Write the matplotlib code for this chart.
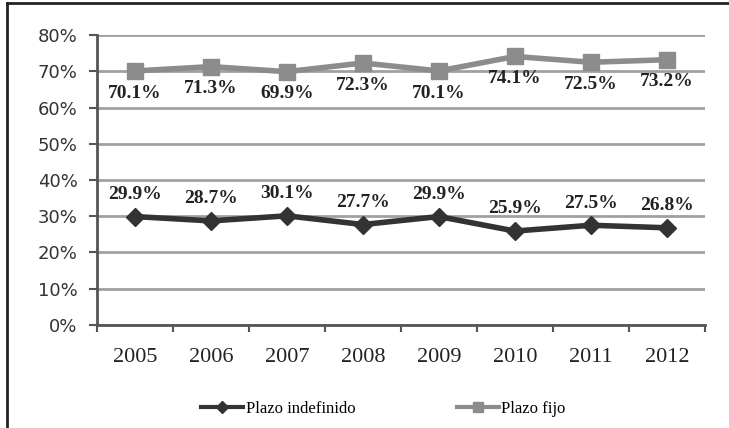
import numpy as np
import matplotlib
matplotlib.use('Agg')
import matplotlib.pyplot as plt
from matplotlib.lines import Line2D
from matplotlib.ticker import FixedLocator, PercentFormatter

years = ['2005', '2006', '2007', '2008', '2009', '2010', '2011', '2012']
indefinido = [29.9, 28.7, 30.1, 27.7, 29.9, 25.9, 27.5, 26.8]
fijo = [70.1, 71.3, 69.9, 72.3, 70.1, 74.1, 72.5, 73.2]
y_ticks = [0, 10, 20, 30, 40, 50, 60, 70, 80]

DARK = '#333333'
LIGHT = '#8c8c8c'
GRID = '#a0a0a0'

fig = plt.figure(figsize=(7.29, 4.28), dpi=100)
ax = fig.add_axes([0.133, 0.241, 0.834, 0.677])

x = np.arange(len(years))
ax.plot(x, fijo, color=LIGHT, linewidth=4, marker='s', markersize=11,
        label='Plazo fijo', zorder=3)
ax.plot(x, indefinido, color=DARK, linewidth=4, marker='D', markersize=9,
        label='Plazo indefinido', zorder=3)

# data labels: fijo below, indefinido above
for xi, v in zip(x, fijo):
    ax.annotate(f'{v:.1f}%', (xi, v), xytext=(0, -16), textcoords='offset points',
                ha='center', va='center', fontsize=14, fontweight='bold',
                family='Liberation Serif', color='#222222')
for xi, v in zip(x, indefinido):
    ax.annotate(f'{v:.1f}%', (xi, v), xytext=(0, 16), textcoords='offset points',
                ha='center', va='center', fontsize=14, fontweight='bold',
                family='Liberation Serif', color='#222222')

ax.set_xlim(-0.5, len(years) - 0.5)
ax.set_ylim(0, 80)
ax.set_yticks(y_ticks)
ax.yaxis.set_major_formatter(PercentFormatter(decimals=0))
ax.set_xticks(x)
ax.set_xticklabels(years, family='Liberation Serif', fontsize=16, color='#222222')
ax.xaxis.set_minor_locator(FixedLocator(np.arange(-0.5, len(years), 1)))
ax.tick_params(axis='x', which='major', length=0, pad=17)
ax.tick_params(axis='x', which='minor', length=5, width=1.5, color='#555555')
ax.tick_params(axis='y', length=6, width=1.5, color='#555555', labelsize=13,
               labelcolor='#333333', pad=8)
for lab in ax.get_yticklabels():
    lab.set_family('DejaVu Sans')

ax.grid(True, axis='y', color=GRID, linewidth=2)
ax.set_axisbelow(True)
for s in ['top', 'right']:
    ax.spines[s].set_visible(False)
ax.spines['left'].set_color('#555555')
ax.spines['left'].set_linewidth(2)
ax.spines['bottom'].set_color('#555555')
ax.spines['bottom'].set_linewidth(2)

# legend
h_ind = Line2D([], [], color=DARK, linewidth=3, marker='D', markersize=6)
h_fij = Line2D([], [], color=LIGHT, linewidth=3, marker='s', markersize=7)
fig.legend([h_ind, h_fij], ['Plazo indefinido', 'Plazo fijo'],
           loc='center', bbox_to_anchor=(0.526, 0.044), ncol=2, frameon=False,
           prop={'family': 'Liberation Serif', 'size': 12},
           handlelength=2.5, handletextpad=0.15, columnspacing=6.1)

# outer chart frame (left and top edges visible)
fig.add_artist(Line2D([0.01, 0.01], [0.0, 0.993], color='#222222', linewidth=2))
fig.add_artist(Line2D([0.01, 1.0], [0.993, 0.993], color='#222222', linewidth=2))

fig.savefig('out.png', dpi=100, facecolor='white')
